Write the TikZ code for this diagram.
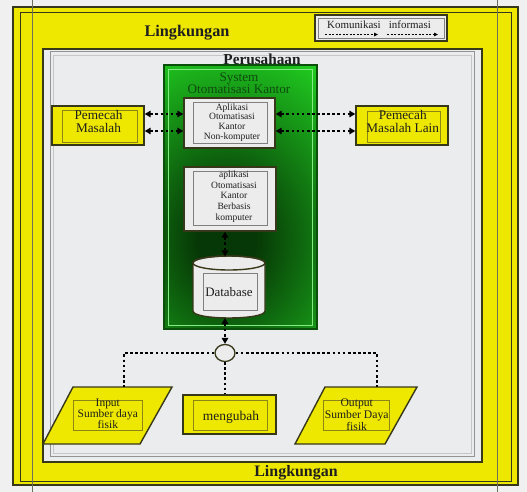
\documentclass[tikz,border=0pt]{standalone}
\usepackage{fontspec}
\setmainfont{Liberation Serif}
\usetikzlibrary{arrows.meta,shapes.geometric}
\definecolor{bgc}{RGB}{240,240,240}
\definecolor{ylw}{RGB}{238,232,0}
\definecolor{olv}{RGB}{55,55,25}
\definecolor{olvin}{RGB}{140,134,20}
\definecolor{pgray}{RGB}{235,236,238}
\definecolor{gbright}{RGB}{34,214,34}
\definecolor{gdark}{RGB}{6,55,6}
\definecolor{gedge}{RGB}{10,80,10}
\definecolor{glight}{RGB}{130,235,130}
\definecolor{boxf}{RGB}{236,236,236}
\definecolor{txt}{RGB}{30,30,30}
\definecolor{gtxt}{RGB}{15,75,15}
\definecolor{artc}{RGB}{110,110,90}
\pgfdeclareradialshading{gsh}{\pgfpoint{0bp}{0bp}}{color(0bp)=(gdark); color(4bp)=(gdark); color(25bp)=(gbright); color(50bp)=(gbright)}
\tikzset{
  frameline/.style={draw=olv, line width=1.2bp},
  ybox/.style={draw=olv, line width=1.4bp, fill=ylw, inner sep=0pt},
  yin/.style={draw=olvin, line width=0.8bp, inner sep=0pt},
  wbox/.style={draw=olv, line width=1.4bp, fill=boxf, inner sep=0pt},
  win/.style={draw=gray, line width=0.8bp, inner sep=0pt},
  lbl/.style={inner sep=0pt, align=center, text=txt},
  dotl/.style={draw=black, line width=2.7bp, dash pattern=on 2.7bp off 2.4bp},
  dotarr/.style={dotl, {Triangle[length=6bp,width=6.5bp]}-{Triangle[length=6bp,width=6.5bp]}},
  legarr/.style={draw=black, line width=0.8bp, dash pattern=on 2bp off 1.5bp, -{Triangle[length=4bp,width=3.5bp]}},
  artline/.style={draw=artc, line width=0.9bp}
}
\begin{document}
\begin{tikzpicture}[x=1bp,y=-1bp]
\useasboundingbox (0,0) rectangle (527,492);
\fill[bgc] (0,0) rectangle (527,492);
% Lingkungan frame
\fill[ylw] (13,7) rectangle (518,485);
\draw[frameline] (13,7) rectangle (518,485);
\draw[frameline, line width=1bp] (20,13) rectangle (511,481);
\draw[artline] (32,0) -- (32,492);
\draw[artline] (497,0) -- (497,492);
% Perusahaan
\fill[pgray] (43,49) rectangle (482,462);
\draw[frameline, line width=1.4bp] (43,49) rectangle (482,462);
\draw[gray!85, line width=1bp] (50,52) rectangle (474,456);
\draw[gray!45, line width=0.8bp] (53,55) rectangle (471,453);
% titles
\node[lbl, font=\bfseries\fontsize{16.3}{17}\selectfont] (lk1) at (187,33) {Lingkungan};
\node[lbl, font=\bfseries\fontsize{16}{17}\selectfont] (lk2) at (296,473) {Lingkungan};
\node[lbl, font=\bfseries\fontsize{15.3}{16}\selectfont] (prs) at (262,59) {Perusahaan};
% legend
\node[wbox, minimum width=132bp, minimum height=26bp] (lgo) at (381,28) {};
\node[win, minimum width=126bp, minimum height=20bp] (lgi) at (381,28) {};
\node[lbl, font=\fontsize{11}{12}\selectfont] (lgt) at (379,25) {Komunikasi\ \ \ informasi};
\coordinate (la1) at (325,34.5);
\coordinate (lb1) at (378,34.5);
\coordinate (la2) at (387,34.5);
\coordinate (lb2) at (438,34.5);
\draw[legarr] (la1) -- (lb1);
\draw[legarr] (la2) -- (lb2);
% green system box
\begin{scope}
  \clip (164,65) rectangle (317,329);
  \fill[gbright] (164,65) rectangle (317,329);
  \shade[shading=gsh] (226,240) ellipse (180 and 215);
\end{scope}
\draw[draw=gedge, line width=1.4bp] (164,65) rectangle (317,329);
\draw[draw=glight, line width=0.8bp] (168,69) rectangle (312,325);
\node[lbl, text=gtxt, font=\fontsize{13.2}{11.5}\selectfont] (sys) at (239,83) {System\\Otomatisasi Kantor};
% aplikasi non-komputer
\node[wbox, minimum width=91bp, minimum height=50bp] (ap1o) at (229.5,123) {};
\node[win, minimum width=74bp, minimum height=41bp] (ap1i) at (230,122.5) {};
\node[lbl, font=\fontsize{9.6}{9.7}\selectfont] (ap1) at (232,122.5) {Aplikasi\\Otomatisasi\\Kantor\\Non-komputer};
% aplikasi berbasis komputer
\node[wbox, minimum width=92bp, minimum height=64bp] (ap2o) at (230,199) {};
\node[win, minimum width=74bp, minimum height=54bp] (ap2i) at (230,198) {};
\node[lbl, font=\fontsize{9.6}{10.75}\selectfont] (ap2) at (234,196.5) {aplikasi\\Otomatisasi\\Kantor\\Berbasis\\komputer};
% database
\filldraw[fill=boxf, draw=olv, line width=1.4bp] (193,263) -- (193,311) .. controls (193,320.3) and (265,320.3) .. (265,311) -- (265,263) .. controls (265,253.7) and (193,253.7) .. (193,263) -- cycle;
\draw[draw=olv, line width=1.4bp] (229,263) ellipse (36 and 7);
\node[win, minimum width=54bp, minimum height=37bp] (dbi) at (230,291.5) {};
\node[lbl, font=\fontsize{13}{14}\selectfont] (db) at (229,292) {Database};
\coordinate (dbtop) at (225,256.3);
\coordinate (dbbot) at (225,318);
% pemecah masalah
\node[ybox, minimum width=92bp, minimum height=39bp] (pmo) at (98,125.5) {};
\node[yin, minimum width=75bp, minimum height=32bp] (pmi) at (99.5,126) {};
\node[lbl, font=\fontsize{13.3}{13}\selectfont] (pm) at (98.5,121.8) {Pemecah\\Masalah};
\node[ybox, minimum width=92bp, minimum height=39bp] (pmlo) at (402,125.5) {};
\node[yin, minimum width=73bp, minimum height=31bp] (pmli) at (403.5,126.5) {};
\node[lbl, font=\fontsize{13.3}{13}\selectfont] (pml) at (402.7,121.8) {Pemecah\\Masalah Lain};
% rows for arrows
\coordinate (r1) at (0,114);
\coordinate (r2) at (0,131);
\draw[dotarr] (pmo.east |- r1) -- (ap1o.west |- r1);
\draw[dotarr] (pmo.east |- r2) -- (ap1o.west |- r2);
\draw[dotarr] (ap1o.east |- r1) -- (pmlo.west |- r1);
\draw[dotarr] (ap1o.east |- r2) -- (pmlo.west |- r2);
% junction
\node[ellipse, draw=olv, line width=1.3bp, fill=boxf, minimum width=20bp, minimum height=17bp, inner sep=0pt] (circ) at (225,353) {};
\draw[dotarr] (ap2o.south -| circ) -- (dbtop);
\draw[dotarr] (dbbot) -- (circ.north);
% input
\filldraw[ybox] (73,387) -- (172,387) -- (140,444) -- (43,444) -- cycle;
\coordinate (inTop) at (124,387);
\node[yin, minimum width=69bp, minimum height=30bp] (ini) at (107.5,415) {};
\node[lbl, font=\fontsize{11.5}{11}\selectfont] (inp) at (107.8,413.8) {Input\\Sumber daya\\fisik};
% mengubah
\node[ybox, minimum width=93bp, minimum height=39bp] (mgo) at (229.5,414.5) {};
\node[yin, minimum width=74bp, minimum height=30bp] (mgi) at (230,415) {};
\node[lbl, font=\fontsize{13.5}{14}\selectfont] (mg) at (231,417) {mengubah};
% output
\filldraw[ybox] (325,387) -- (417,387) -- (385,444) -- (295,444) -- cycle;
\coordinate (outTop) at (377,387);
\node[yin, minimum width=66bp, minimum height=30bp] (outi) at (356,415) {};
\node[lbl, font=\fontsize{11.7}{12}\selectfont] (outp) at (356.7,414.5) {Output\\Sumber Daya\\fisik};
% connectors from junction
\draw[dotl] (circ.west) -| (inTop);
\draw[dotl] (circ.east) -| (outTop);
\draw[dotl] (circ.south) -- (circ.south |- mgo.north);
\end{tikzpicture}
\end{document}
